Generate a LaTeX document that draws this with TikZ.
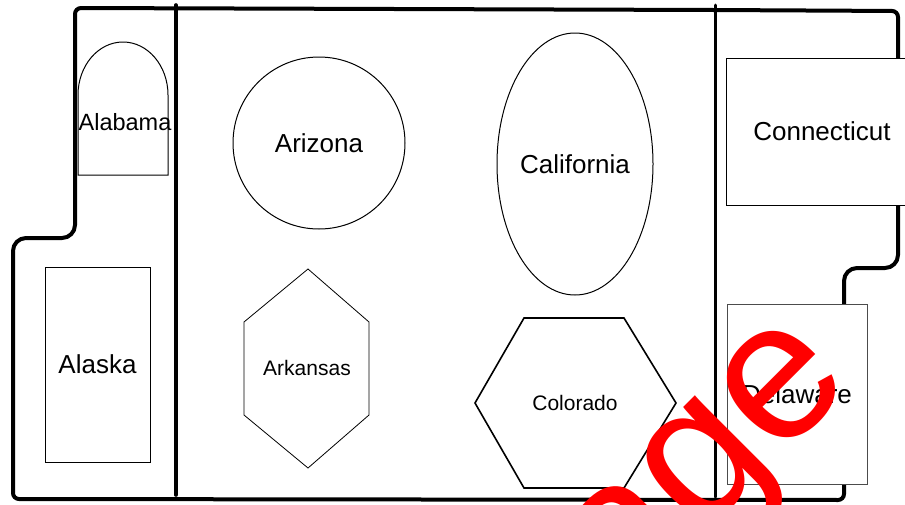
\documentclass[tikz,border=0pt]{standalone}
\usepackage{fontspec}
\setmainfont{Liberation Sans}
\usepackage{tikz}
\usetikzlibrary{shapes.geometric}
\tikzset{
  wall/.style={line width=4pt,line cap=round,line join=round},
  divider/.style={line width=3.6pt,line cap=round},
  room/.style={draw=black,line width=1pt,fill=white,inner sep=0pt},
  bigtxt/.style={font=\fontsize{26}{30}\selectfont},
  midtxt/.style={font=\fontsize{23.5}{27}\selectfont},
  smalltxt/.style={font=\fontsize{21}{25}\selectfont},
  stamp/.style={text=red,font=\fontsize{198}{198}\selectfont,rotate=45,
                anchor=base west,inner sep=0pt}
}
\begin{document}
\begin{tikzpicture}[x=1pt,y=-1pt]
  \useasboundingbox[fill=white] (0,0) rectangle (905,504);
  % outer wall
  \draw[wall] (75,120) [rounded corners=6pt] -- (75,8) -- (715,10) -- (898,11)
    [rounded corners=13pt] -- (898,268) -- (844,268)
    [rounded corners=6pt] -- (844,500) -- (13,499)
    [rounded corners=13pt] -- (13,238) -- (75,238) -- cycle;
  \draw[divider] (176,5) -- (176,495);
  \draw[divider,line width=3pt] (715,5) -- (715,497);
  % rooms
  \draw[room] (78,175) -- (78,95) arc[start angle=180,end angle=0,
    x radius=45pt,y radius=53pt] -- (168,175) -- cycle;
  \node[midtxt] (alabama) at (125,122) {Alabama};
  \node[room,bigtxt,minimum width=105pt,minimum height=195pt] (alaska) at (97.5,364.5) {Alaska};
  \node[room,bigtxt,circle,minimum size=172pt] (arizona) at (319,143) {Arizona};
  \node[room,bigtxt,ellipse,minimum width=156pt,minimum height=262pt] (california) at (575,164) {California};
  \draw[room,line width=0.8pt] (308,269) -- (369,322) -- (369,415) -- (308,468)
    -- (244,415) -- (244,322) -- cycle;
  \node[smalltxt] (arkansas) at (307,368) {Arkansas};
  \draw[room,line width=1.6pt] (475,403) -- (524,318) -- (624,318) -- (676,403)
    -- (624,488) -- (524,488) -- cycle;
  \node[smalltxt] (colorado) at (575,403) {Colorado};
  \node[room,bigtxt,minimum width=192pt,minimum height=147pt] (connecticut) at (822,131.5) {Connecticut};
  \node[room,bigtxt,draw=black!70,minimum width=140pt,minimum height=180pt] (delaware) at (797,394) {Delaware};
  \node[stamp] (watermark) at (623,616) {age};
\end{tikzpicture}
\end{document}
